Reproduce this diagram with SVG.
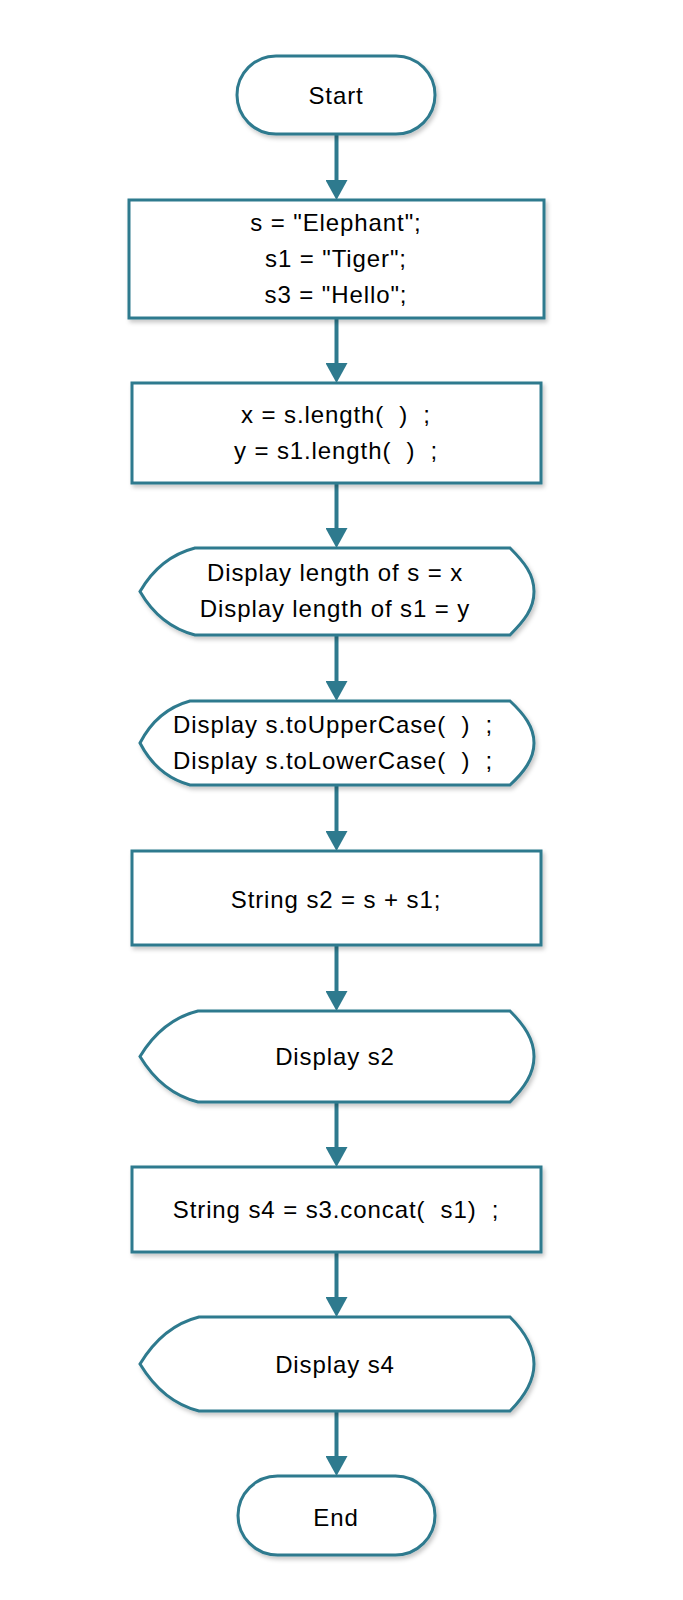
<svg xmlns="http://www.w3.org/2000/svg" width="683" height="1600" viewBox="0 0 683 1600">
<style>
.shape{fill:#ffffff;stroke:#2e7a8e;stroke-width:3;filter:url(#sh)}
.lbl{font-family:"Liberation Sans",Arial,sans-serif;font-size:24px;letter-spacing:0.9px;fill:#000000;text-anchor:middle;white-space:pre}
.conn{stroke:#2e7a8e;stroke-width:4;fill:none;marker-end:url(#arr)}
</style>
<defs>
<filter id="sh" x="-10%" y="-10%" width="125%" height="130%">
<feDropShadow dx="2" dy="3" stdDeviation="2" flood-color="#000000" flood-opacity="0.22"/>
</filter>
<marker id="arr" markerUnits="userSpaceOnUse" markerWidth="20" markerHeight="22" viewBox="0 0 20 22" refX="0" refY="11" orient="auto">
<path d="M0,0 L20,11 L0,22 Z" fill="#2e7a8e"/>
</marker>
</defs>
<rect width="683" height="1600" fill="#ffffff"/>
<g id="connectors">
<line class="conn" x1="336.5" y1="134" x2="336.5" y2="180"/>
<line class="conn" x1="336.5" y1="318" x2="336.5" y2="363"/>
<line class="conn" x1="336.5" y1="483" x2="336.5" y2="528"/>
<line class="conn" x1="336.5" y1="635" x2="336.5" y2="681"/>
<line class="conn" x1="336.5" y1="785" x2="336.5" y2="831"/>
<line class="conn" x1="336.5" y1="945" x2="336.5" y2="991"/>
<line class="conn" x1="336.5" y1="1102" x2="336.5" y2="1147"/>
<line class="conn" x1="336.5" y1="1252" x2="336.5" y2="1297"/>
<line class="conn" x1="336.5" y1="1411" x2="336.5" y2="1456"/>
</g>
<g id="start">
<rect class="shape" x="237" y="56" width="198" height="78" rx="39" ry="39"/>
<text class="lbl" x="336" y="104">Start</text>
</g>
<g id="assign">
<rect class="shape" x="129" y="200" width="415" height="118"/>
<text class="lbl" x="336" y="231">s = "Elephant";</text>
<text class="lbl" x="336" y="267">s1 = "Tiger";</text>
<text class="lbl" x="336" y="303">s3 = "Hello";</text>
</g>
<g id="lengths">
<rect class="shape" x="132" y="383" width="409" height="100"/>
<text class="lbl" x="336" y="423">x = s.length(  )  ;</text>
<text class="lbl" x="336" y="459">y = s1.length(  )  ;</text>
</g>
<g id="display-lengths">
<path class="shape" d="M195,548 L510,548 C524,562 534,574 534,591.5 C534,609 524,621 510,635 L195,635 Q160,626 140,591.5 Q160,557 195,548 Z"/>
<text class="lbl" x="335" y="581">Display length of s = x</text>
<text class="lbl" x="335" y="617">Display length of s1 = y</text>
</g>
<g id="display-case">
<path class="shape" d="M190,701 L510,701 C524,714 534,727 534,743 C534,759 524,772 510,785 L190,785 Q157,776 140,743 Q157,710 190,701 Z"/>
<text class="lbl" x="333" y="733">Display s.toUpperCase(  )  ;</text>
<text class="lbl" x="333" y="769">Display s.toLowerCase(  )  ;</text>
</g>
<g id="concat-plus">
<rect class="shape" x="132" y="851" width="409" height="94"/>
<text class="lbl" x="336" y="908">String s2 = s + s1;</text>
</g>
<g id="display-s2">
<path class="shape" d="M198,1011 L510,1011 C524,1025 534,1039 534,1056.5 C534,1074 524,1088 510,1102 L198,1102 Q162,1093 140,1056.5 Q162,1020 198,1011 Z"/>
<text class="lbl" x="335" y="1065">Display s2</text>
</g>
<g id="concat-method">
<rect class="shape" x="132" y="1167" width="409" height="85"/>
<text class="lbl" x="336" y="1218">String s4 = s3.concat(  s1)  ;</text>
</g>
<g id="display-s4">
<path class="shape" d="M199,1317 L510,1317 C524,1331 534,1346 534,1364 C534,1382 524,1397 510,1411 L199,1411 Q163,1402 140,1364 Q163,1326 199,1317 Z"/>
<text class="lbl" x="335" y="1373">Display s4</text>
</g>
<g id="end">
<rect class="shape" x="238" y="1476" width="197" height="79" rx="39.5" ry="39.5"/>
<text class="lbl" x="336" y="1526">End</text>
</g>
</svg>
